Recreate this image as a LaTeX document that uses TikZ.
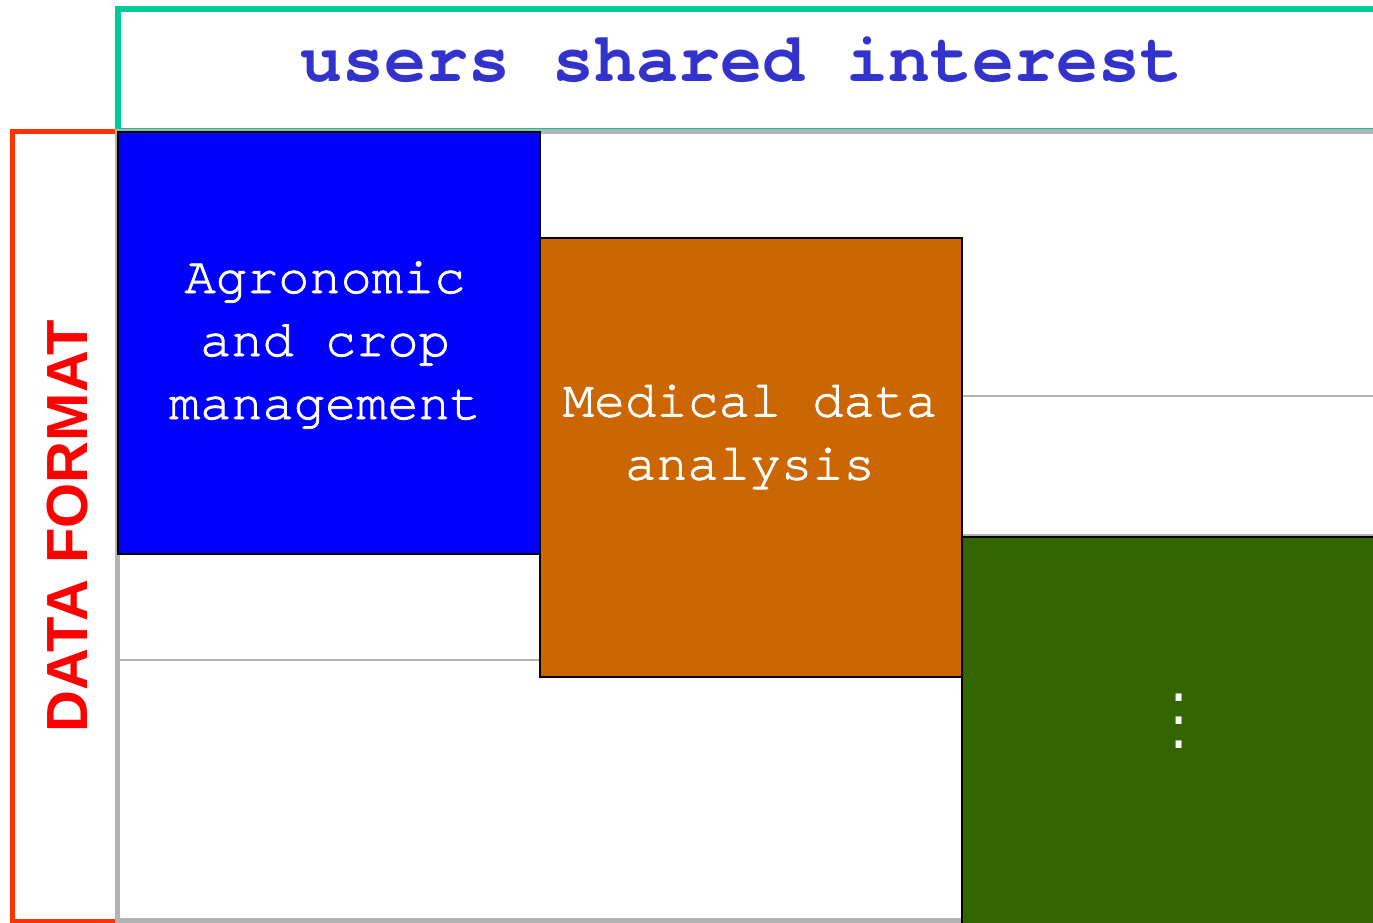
\documentclass[tikz,border=0pt]{standalone}
\usepackage{fontspec}
\newfontfamily\cour{TeX Gyre Cursor}
\newfontfamily\courmid[FakeBold=1.6]{TeX Gyre Cursor}
\newfontfamily\liberamono{Liberation Mono}
\newfontfamily\helv{Liberation Sans}
\definecolor{teal1}{HTML}{00CC99}
\definecolor{redframe}{HTML}{FF3300}
\definecolor{redtext}{HTML}{FF0000}
\definecolor{gridgray}{HTML}{B3B3B3}
\definecolor{boxblue}{HTML}{0000FF}
\definecolor{boxorange}{HTML}{CC6600}
\definecolor{boxgreen}{HTML}{336600}
\definecolor{titleblue}{HTML}{3333CC}
\tikzset{
  areabox/.style={draw=black, line width=2pt, inner sep=0pt, outer sep=0pt, rectangle},
  boxtext/.style={text=white, font=\courmid\fontsize{52}{63}\selectfont, align=center, inner sep=0pt},
  thickgray/.style={draw=gridgray, line width=5pt},
  thingray/.style={draw=gridgray, line width=2pt},
}
\begin{document}
\begin{tikzpicture}[x=1pt,y=-1pt]
\useasboundingbox (0,0) rectangle (1373,923);
% frames
\draw[teal1, line width=6pt] (1390,9) -- (117.5,9) -- (117.5,131.5) -- (1390,131.5);
\draw[redframe, line width=5pt] (117,132) -- (12,132) -- (12,921) -- (117,921);
\coordinate (tl) at (117.5,131.5);
\coordinate (tr) at (1390,131.5);
\coordinate (bl) at (117.5,920.5);
\coordinate (br) at (1390,920.5);
\draw[thickgray] (tr) -- (tl) -- (bl) -- (br);
% grid lines
\coordinate (g1a) at (118,660);
\coordinate (g1b) at (540,660);
\coordinate (g2a) at (962,396);
\coordinate (g2b) at (1390,396);
\coordinate (g3a) at (962,535);
\coordinate (g3b) at (1390,535);
\draw[thingray] (g1a) -- (g1b);
\draw[thingray] (g2a) -- (g2b);
\draw[thingray] (g3a) -- (g3b);
% boxes
\node[areabox, fill=boxblue, minimum width=422pt, minimum height=422pt] (agro) at (329,343) {};
\node[areabox, fill=boxorange, minimum width=422pt, minimum height=439pt] (med) at (751,457.5) {};
\node[areabox, fill=boxgreen, minimum width=440pt, minimum height=400pt] (other) at (1182,737) {};
% texts
\node[boxtext] (agrotext) at (325,345) {Agronomic\\and crop\\management};
\node[boxtext] (medtext) at (750,437) {Medical data\\analysis};
\node[text=white, font=\liberamono\fontsize{52}{23.5}\selectfont, align=center, inner sep=0pt] (dots) at (1179,721) {.\\.\\.};
\node[text=titleblue, font=\cour\bfseries\fontsize{70}{84}\selectfont, anchor=base, inner sep=0pt] (title) at (741.5,82) {users shared interest};
\node[text=redtext, font=\helv\bfseries\fontsize{58}{70}\selectfont, rotate=90, inner sep=0pt] (fmt) at (68,526) {DATA FORMAT};
\end{tikzpicture}
\end{document}
